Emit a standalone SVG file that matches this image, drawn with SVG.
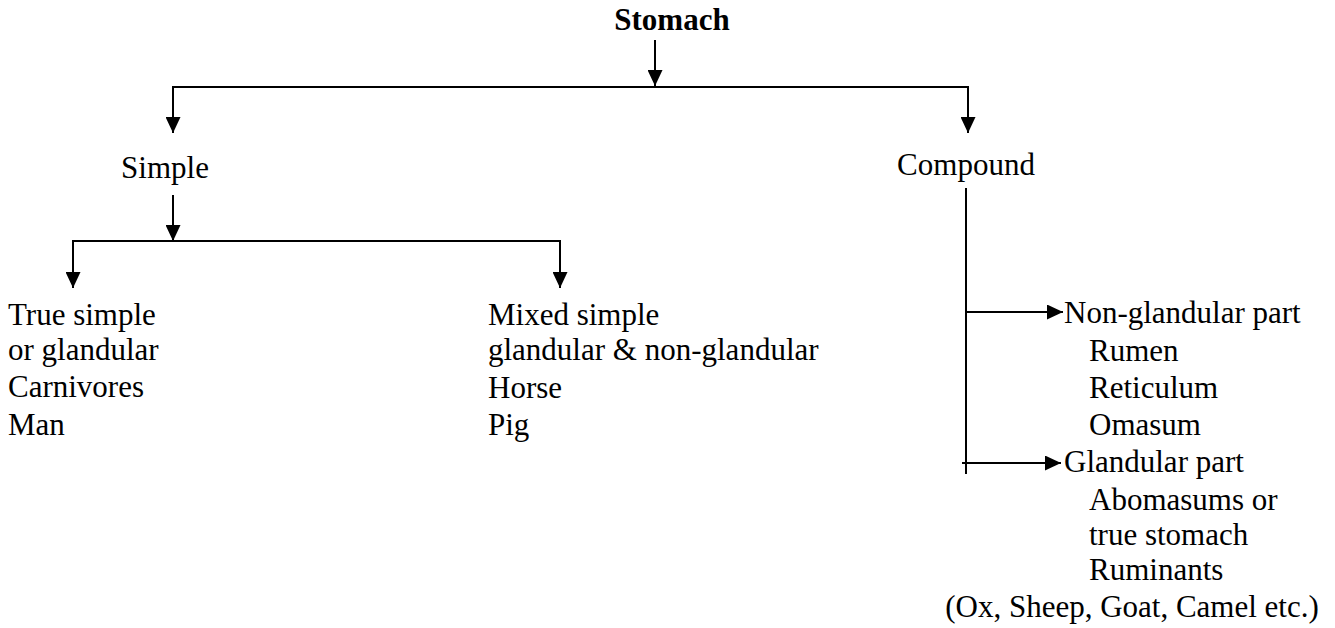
<svg xmlns="http://www.w3.org/2000/svg" width="1335" height="628" viewBox="0 0 1335 628">
<style>
text{font-size:31px;fill:#000}
.b{font-weight:bold}
.c line,.c path{stroke:#000;stroke-width:2;fill:none}
</style>
<defs>
<marker id="ah" markerUnits="userSpaceOnUse" markerWidth="16" markerHeight="15" refX="16" refY="7.5" orient="auto">
<path d="M0,0 L16,7.5 L0,15 Z" fill="#000"/>
</marker>
</defs>
<rect width="1335" height="628" fill="#fff"/>
<g id="connectors" class="c">
<line x1="655" y1="40" x2="655" y2="86" marker-end="url(#ah)"/>
<line x1="172" y1="87" x2="969" y2="87"/>
<line x1="173" y1="87" x2="173" y2="133" marker-end="url(#ah)"/>
<line x1="968" y1="87" x2="968" y2="133" marker-end="url(#ah)"/>
<line x1="173" y1="195" x2="173" y2="241" marker-end="url(#ah)"/>
<line x1="72" y1="241" x2="561" y2="241"/>
<line x1="73" y1="241" x2="73" y2="288" marker-end="url(#ah)"/>
<line x1="560" y1="241" x2="560" y2="288" marker-end="url(#ah)"/>
<line x1="966" y1="188" x2="966" y2="474"/>
<line x1="966" y1="312" x2="1063" y2="312" marker-end="url(#ah)"/>
<line x1="962" y1="463" x2="1061" y2="463" marker-end="url(#ah)"/>
</g>
<g font-family="'Liberation Serif', 'Times New Roman', Times, serif">
<g id="stomach"><text class="b" x="672" y="30" text-anchor="middle">Stomach</text></g>
<g id="simple"><text x="165" y="178" text-anchor="middle">Simple</text></g>
<g id="compound"><text x="966" y="175" text-anchor="middle">Compound</text></g>
<g id="true-simple">
<text x="8" y="325">True simple</text>
<text x="8" y="360">or glandular</text>
<text x="8" y="397">Carnivores</text>
<text x="8" y="435">Man</text>
</g>
<g id="mixed-simple">
<text x="488" y="325">Mixed simple</text>
<text x="488" y="360">glandular &amp; non-glandular</text>
<text x="488" y="398">Horse</text>
<text x="488" y="435">Pig</text>
</g>
<g id="non-glandular">
<text x="1064" y="323">Non-glandular part</text>
<text x="1089" y="361">Rumen</text>
<text x="1089" y="398">Reticulum</text>
<text x="1089" y="435">Omasum</text>
</g>
<g id="glandular">
<text x="1064" y="472">Glandular part</text>
<text x="1089" y="510">Abomasums or</text>
<text x="1089" y="545">true stomach</text>
<text x="1089" y="580">Ruminants</text>
<text x="1132" y="617" text-anchor="middle">(Ox, Sheep, Goat, Camel etc.)</text>
</g>
</g>
</svg>
